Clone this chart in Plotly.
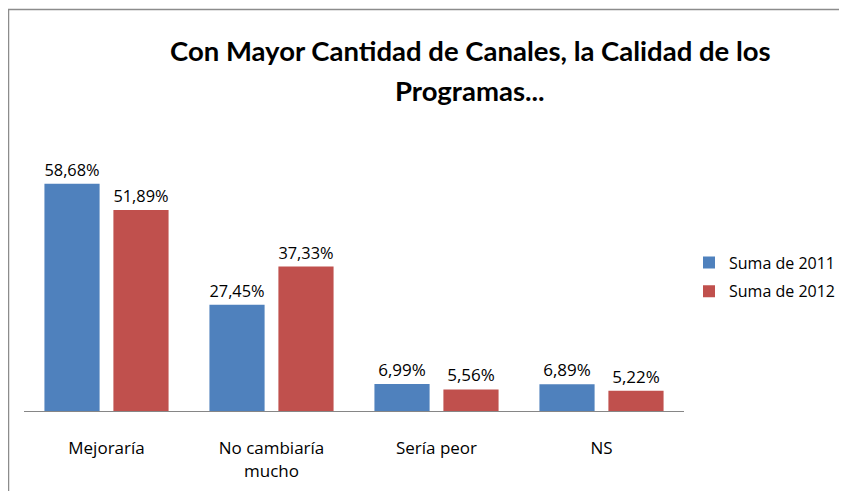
import plotly.graph_objects as go

categories = ["Mejoraría", "No cambiaría<br>mucho", "Sería peor", "NS"]
series_names = ["Suma de 2011", "Suma de 2012"]
values_2011 = [58.68, 27.45, 6.99, 6.89]
values_2012 = [51.89, 37.33, 5.56, 5.22]
colors = ["#4F81BD", "#C0504D"]
title_lines = ["Con Mayor Cantidad de Canales, la Calidad de los", "Programas..."]

FONT = "Open Sans"
TFONT = "Lato"
FS = 17

def fmt(v):
    return f"{v:.2f}".replace(".", ",") + "%"

fig = go.Figure()
for name, vals, col in zip(series_names, [values_2011, values_2012], colors):
    fig.add_trace(go.Bar(
        x=categories, y=vals, name=name, legendgroup=name,
        marker=dict(color=col, line=dict(width=0)),
        text=[fmt(v) for v in vals], textposition="outside",
        textfont=dict(family=FONT, size=FS, color="#000000"),
        cliponaxis=False,
    ))

# The page places the figure 8px in from the window's top-left corner
# (default body margin); keep the figure small enough to avoid scrollbars.
OFF = 8
W, H = 847 - 2 * OFF, 499 - 2 * OFF
L = 24 - OFF
R = W - (684 - OFF)
T = 140 - OFF
B = H - (411 - OFF)
pw, ph = W - L - R, H - T - B

def px_to_paper_x(px):
    return (px - OFF - L) / pw

def px_to_paper_y(py):
    return (H - B - (py - OFF)) / ph

fig.update_layout(
    width=W, height=H,
    margin=dict(l=L, r=R, t=T, b=B, autoexpand=False),
    paper_bgcolor="white", plot_bgcolor="white",
    barmode="group", bargap=0.164, bargroupgap=0.2,
    showlegend=True,
    legend=dict(
        x=px_to_paper_x(689), y=px_to_paper_y(277), xanchor="left", yanchor="middle",
        font=dict(family=FONT, size=16, color="#000000"),
        itemwidth=30, traceorder="grouped", tracegroupgap=5,
        bgcolor="rgba(0,0,0,0)",
    ),
    xaxis=dict(
        showline=True, linecolor="#868686", linewidth=1,
        ticks="", showgrid=False, zeroline=False,
        tickfont=dict(family=FONT, size=FS, color="#000000"),
        ticklabelstandoff=22,
    ),
    yaxis=dict(range=[0, 70], visible=False, showgrid=False, zeroline=False),
    font=dict(family=FONT),
)

for line, py in zip(title_lines, [50, 90]):
    fig.add_annotation(
        text=f"<b>{line}</b>", xref="paper", yref="paper",
        x=px_to_paper_x(470), y=px_to_paper_y(py), xanchor="center", yanchor="middle",
        showarrow=False, font=dict(family=TFONT, size=27.5, color="#000000"),
    )

fig.add_shape(
    type="rect", xref="paper", yref="paper",
    x0=px_to_paper_x(8.5), x1=px_to_paper_x(900), y0=px_to_paper_y(560), y1=px_to_paper_y(9.5),
    line=dict(color="#8C8C8C", width=1.5), fillcolor="rgba(0,0,0,0)", layer="below",
)

fig.write_html("out.html")
